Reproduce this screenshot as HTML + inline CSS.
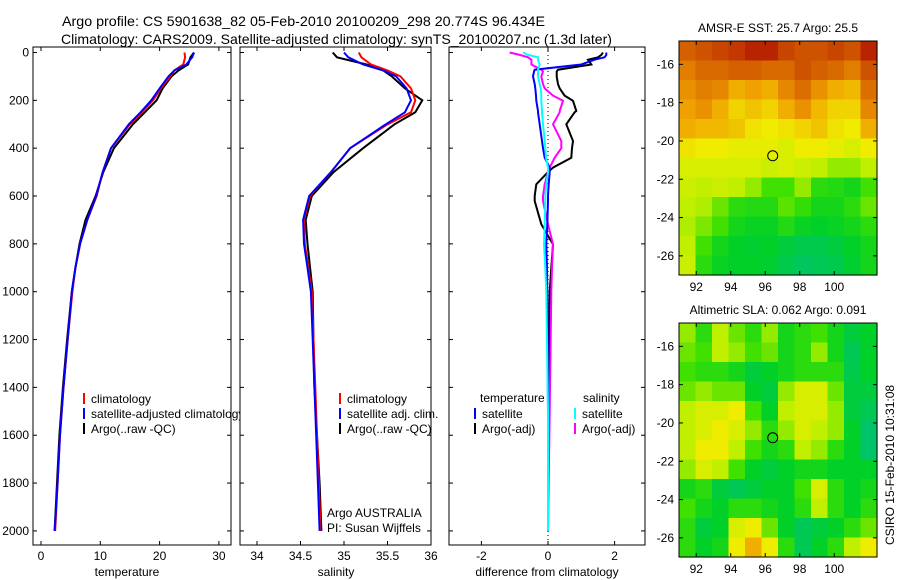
<!DOCTYPE html>
<html><head><meta charset="utf-8"><style>
html,body{margin:0;padding:0;background:#fff}
svg{display:block;font-family:"Liberation Sans",sans-serif;font-size:12px}
.ttl{font-size:14px}
</style></head><body>
<svg id="fig" width="900" height="580" viewBox="0 0 900 580" xmlns="http://www.w3.org/2000/svg">
<rect width="900" height="580" fill="#fff"/>
<text class="ttl" x="62" y="26" textLength="483" lengthAdjust="spacingAndGlyphs">Argo profile: CS 5901638_82 05-Feb-2010 20100209_298 20.774S 96.434E</text>
<text class="ttl" x="61" y="44" textLength="551" lengthAdjust="spacingAndGlyphs">Climatology: CARS2009. Satellite-adjusted climatology: synTS_20100207.nc (1.3d later)</text>
<g id="p1"></g>
<g id="p2"></g>
<g id="p3"></g>
<g id="m1"></g>
<g id="m2"></g>
<text transform="translate(894,465) rotate(-90)" text-anchor="middle">CSIRO 15-Feb-2010 10:31:08</text>
</svg>
<script>
const depths=[0,20,50,75,100,150,200,250,300,400,500,600,700,800,900,1000,1200,1400,1600,1800,2000];
const tempClim=[24.2,24.3,24,22.5,21.8,20.2,18.9,17,15,11.8,10.4,9.4,7.8,6.6,5.8,5.3,4.5,3.8,3.2,2.8,2.4];
const tempSat=[25.8,25.5,24.5,22.5,21.5,20,18.6,16.8,14.8,11.8,10.4,9.3,7.8,6.6,5.8,5.2,4.5,3.8,3.2,2.8,2.3];
const tempArgo=[25.8,25.2,24.8,23.2,22,20.5,19.5,17.5,15.5,12.3,10.5,9.2,7.5,6.5,5.8,5.2,4.4,3.7,3.1,2.7,2.3];
const salClim=[35.17,35.2,35.31,35.5,35.65,35.77,35.82,35.77,35.5,35.07,34.85,34.61,34.54,34.55,34.59,34.63,34.65,34.67,34.69,34.71,34.73];
const salSat=[35.0,35.05,35.22,35.45,35.6,35.72,35.77,35.7,35.48,35.07,34.85,34.6,34.53,34.54,34.58,34.62,34.64,34.66,34.68,34.7,34.72];
const salArgo=[34.87,34.92,35.26,35.45,35.55,35.7,35.9,35.82,35.58,35.22,34.88,34.63,34.56,34.58,34.61,34.64,34.65,34.66,34.69,34.72,34.74];
const diffDepths=[0,10,20,30,50,72,80,100,132,150,180,202,244,250,300,370,400,440,481,500,551,600,621,718,802,900,1000,1500,2000];
const diffTArgo=[1.65,1.6,1.5,1.2,1.3,0.3,0.26,0.26,0.3,0.35,0.5,0.75,0.85,0.8,0.55,0.75,0.72,0.7,0.15,0.0,-0.35,-0.4,-0.4,-0.2,0.15,0.1,0.05,0.0,0.0];
const diffTSat=[1.75,1.75,1.7,1.4,1.0,-0.4,-0.42,-0.45,-0.4,-0.38,-0.36,-0.35,-0.3,-0.3,-0.25,-0.18,-0.15,-0.1,0.05,0.05,0.02,0.0,0.0,-0.02,-0.05,-0.03,-0.02,0.0,0.0];
const diffSSat=[-0.75,-0.6,-0.3,-0.3,-0.25,-0.3,-0.3,-0.3,-0.25,-0.22,-0.2,-0.2,-0.18,-0.18,-0.15,-0.1,-0.08,-0.06,0.0,0.0,-0.05,-0.08,-0.08,-0.1,-0.12,-0.08,-0.05,0.0,0.0];
const diffSArgo=[-1.15,-0.85,-0.6,-0.5,-0.5,-0.2,-0.15,-0.2,-0.15,-0.1,0.15,0.45,0.35,0.35,0.15,0.4,0.4,0.2,0.05,0.0,-0.1,-0.15,-0.15,0.0,0.15,0.12,0.1,0.05,0.0];
const depthTicks=[0,200,400,600,800,1000,1200,1400,1600,1800,2000];
const tempTicks=[0,10,20,30];
const salTicks=[34,34.5,35,35.5,36];
const diffTicks=[-2,0,2];
const lonTicks=[92,94,96,98,100];
const latTicks=[-16,-18,-20,-22,-24,-26];
const sstGrid=[
[0.88,0.9,0.92,0.94,0.97,0.97,0.92,0.9,0.9,0.92,0.9,0.97],
[0.82,0.86,0.86,0.88,0.88,0.86,0.86,0.9,0.88,0.86,0.82,0.9],
[0.78,0.82,0.8,0.72,0.75,0.72,0.8,0.85,0.78,0.72,0.7,0.85],
[0.75,0.78,0.72,0.65,0.68,0.65,0.72,0.78,0.7,0.65,0.65,0.8],
[0.72,0.7,0.7,0.68,0.62,0.6,0.62,0.65,0.68,0.62,0.6,0.72],
[0.62,0.6,0.6,0.58,0.58,0.58,0.55,0.6,0.6,0.58,0.55,0.6],
[0.55,0.55,0.55,0.55,0.55,0.52,0.55,0.52,0.5,0.45,0.45,0.5],
[0.52,0.5,0.52,0.5,0.45,0.35,0.35,0.45,0.3,0.28,0.25,0.35],
[0.5,0.48,0.4,0.3,0.28,0.28,0.38,0.32,0.25,0.25,0.3,0.4],
[0.48,0.42,0.35,0.25,0.22,0.22,0.28,0.22,0.2,0.22,0.25,0.3],
[0.5,0.35,0.25,0.2,0.18,0.2,0.15,0.12,0.12,0.15,0.2,0.25],
[0.52,0.3,0.22,0.2,0.2,0.18,0.12,0.08,0.1,0.12,0.18,0.25]];
const slaGrid=[
[0.45,0.3,0.5,0.4,0.3,0.45,0.25,0.3,0.35,0.25,0.15,0.2],
[0.4,0.35,0.5,0.45,0.35,0.4,0.25,0.3,0.45,0.25,0.1,0.2],
[0.35,0.3,0.3,0.25,0.15,0.2,0.25,0.3,0.3,0.3,0.12,0.2],
[0.4,0.45,0.4,0.4,0.2,0.15,0.45,0.55,0.55,0.4,0.15,0.15],
[0.5,0.55,0.55,0.6,0.35,0.2,0.5,0.55,0.55,0.45,0.15,0.1],
[0.5,0.55,0.6,0.55,0.45,0.3,0.45,0.55,0.5,0.45,0.2,0.05],
[0.5,0.6,0.6,0.5,0.35,0.25,0.3,0.5,0.45,0.3,0.2,0.05],
[0.45,0.55,0.5,0.35,0.2,0.15,0.2,0.25,0.25,0.2,0.2,0.2],
[0.25,0.3,0.15,0.1,0.15,0.2,0.2,0.35,0.55,0.3,0.2,0.25],
[0.35,0.25,0.2,0.3,0.3,0.25,0.2,0.3,0.5,0.3,0.2,0.3],
[0.3,0.15,0.2,0.55,0.6,0.4,0.2,0.1,0.15,0.2,0.3,0.4],
[0.3,0.2,0.25,0.6,0.72,0.6,0.3,0.1,0.2,0.3,0.5,0.6]];
const argoLon=96.434, argoLat=-20.774;

const NS='http://www.w3.org/2000/svg';
function mk(parent,tag,attrs,text){const e=document.createElementNS(NS,tag);for(const k in attrs)e.setAttribute(k,attrs[k]);if(text!==undefined)e.textContent=text;parent.appendChild(e);return e;}
const yD=d=>52.5+d*0.2392;
function frame(g,x0,x1,y0,y1){mk(g,'rect',{x:x0,y:y0,width:x1-x0,height:y1-y0,fill:'#fff',stroke:'#000','stroke-width':1});}
function profile(g,xs,vals,ds,color,w,name){
  const pts=vals.map((v,i)=>xs(v).toFixed(1)+','+yD(ds[i]).toFixed(1)).join(' ');
  const p=mk(g,'polyline',{points:pts,fill:'none',stroke:color,'stroke-width':w});
  
  
}
function xaxis(g,xs,ticks,y0,y1,label,labx){
  ticks.forEach(t=>{const x=xs(t);mk(g,'line',{x1:x,x2:x,y1:y1,y2:y1-4,stroke:'#000'});mk(g,'line',{x1:x,x2:x,y1:y0,y2:y0+4,stroke:'#000'});
    const tl=mk(g,'text',{x:x,y:y1+15,'text-anchor':'middle'},String(t));
    
    });
  const lt=mk(g,'text',{x:labx,y:y1+31,'text-anchor':'middle'},label);
  
  
}
function yticks(g,x0,x1,labels){
  depthTicks.forEach(d=>{const y=yD(d);mk(g,'line',{x1:x0,x2:x0+4,y1:y,y2:y,stroke:'#000'});mk(g,'line',{x1:x1,x2:x1-4,y1:y,y2:y,stroke:'#000'});
    if(labels){const tl=mk(g,'text',{x:x0-4,y:y+4,'text-anchor':'end'},String(d));
      
      }});
}
function legend(g,x,y,color,label){
  mk(g,'line',{x1:x,x2:x,y1:y-10,y2:y+1,stroke:color,'stroke-width':2});
  const t=mk(g,'text',{x:x+7,y:y},label);
  
  
}
// Panel 1
const p1=document.getElementById('p1');
const xT=t=>41+t*5.93;
frame(p1,33,231,47,545);
yticks(p1,33,231,true);
xaxis(p1,xT,tempTicks,47,545,'temperature',127);
profile(p1,xT,tempArgo,depths,'#000',2,'temp-argo-line');
profile(p1,xT,tempClim,depths,'#f00',2,'temp-climatology-line');
profile(p1,xT,tempSat,depths,'#00f',2,'temp-satellite-line');
legend(p1,84,403,'#f00','climatology');
legend(p1,84,418,'#00f','satellite-adjusted climatology');
legend(p1,84,433,'#000','Argo(..raw -QC)');
// Panel 2
const p2=document.getElementById('p2');
const xS=s=>257+(s-34)*87;
frame(p2,240,431,47,545);
yticks(p2,240,431,false);
xaxis(p2,xS,salTicks,47,545,'salinity',336);
profile(p2,xS,salArgo,depths,'#000',2,'sal-argo-line');
profile(p2,xS,salClim,depths,'#f00',2,'sal-climatology-line');
profile(p2,xS,salSat,depths,'#00f',2,'sal-satellite-line');
legend(p2,340,403,'#f00','climatology');
legend(p2,340,418,'#00f','satellite adj. clim.');
legend(p2,340,433,'#000','Argo(..raw -QC)');
mk(p2,'text',{x:327,y:517},'Argo AUSTRALIA');
mk(p2,'text',{x:327,y:532},'PI: Susan Wijffels');
// Panel 3
const p3=document.getElementById('p3');
const xDf=d=>548+d*33.3;
frame(p3,449,645,47,545);
yticks(p3,449,645,false);
xaxis(p3,xDf,diffTicks,47,545,'difference from climatology',547);
mk(p3,'line',{x1:xDf(0),x2:xDf(0),y1:47,y2:545,stroke:'#000','stroke-dasharray':'1,3'});
profile(p3,xDf,diffTArgo,diffDepths,'#000',2,'diff-temp-argo-line');
profile(p3,xDf,diffSArgo,diffDepths,'#f0f',2,'diff-sal-argo-line');
profile(p3,xDf,diffTSat,diffDepths,'#00f',2,'diff-temp-satellite-line');
profile(p3,xDf,diffSSat,diffDepths,'#0ff',2,'diff-sal-satellite-line');
mk(p3,'text',{x:480,y:402},'temperature');
mk(p3,'text',{x:583,y:402},'salinity');
legend(p3,475,418,'#00f','satellite');
legend(p3,475,433,'#000','Argo(-adj)');
legend(p3,575,418,'#0ff','satellite');
legend(p3,575,433,'#f0f','Argo(-adj)');
// Maps
const stops=[[0,[0,192,128]],[0.2,[0,208,40]],[0.35,[64,224,0]],[0.5,[192,240,0]],[0.6,[240,236,0]],[0.75,[240,160,0]],[0.88,[212,96,0]],[1,[176,16,0]]];
function cmap(v){for(let i=1;i<stops.length;i++){if(v<=stops[i][0]){const a=stops[i-1],b=stops[i],f=(v-a[0])/(b[0]-a[0]);return 'rgb('+a[1].map((c,k)=>Math.round(c+(b[1][k]-c)*f)).join(',')+')';}}return 'rgb(176,16,0)';}
function drawMap(id,grid,top,title){
  const g=document.getElementById(id);
  const L=679,R=877,B=top+234;
  const lonMin=91,lonMax=102.48,latTop=-14.78,latBot=-27.0;
  const xL=lon=>L+(lon-lonMin)/(lonMax-lonMin)*(R-L);
  const yL=lat=>top+(latTop-lat)/(latTop-latBot)*(B-top);
  const rows=grid.length,cols=grid[0].length;
  const cw=(R-L)/cols,ch=(B-top)/rows;
  grid.forEach((row,r)=>row.forEach((v,c)=>{
    const cell=mk(g,'rect',{x:(L+c*cw).toFixed(2),y:(top+r*ch).toFixed(2),width:(cw+0.6).toFixed(2),height:(ch+0.6).toFixed(2),fill:cmap(v)});
    
    
  }));
  mk(g,'rect',{x:L,y:top,width:R-L,height:B-top,fill:'none',stroke:'#000'});
  lonTicks.forEach(t=>{const x=xL(t);mk(g,'line',{x1:x,x2:x,y1:B,y2:B-4,stroke:'#000'});mk(g,'line',{x1:x,x2:x,y1:top,y2:top+4,stroke:'#000'});
    const tl=mk(g,'text',{x:x,y:B+16,'text-anchor':'middle'},String(t));
    
    });
  latTicks.forEach(t=>{const y=yL(t);mk(g,'line',{x1:L,x2:L+4,y1:y,y2:y,stroke:'#000'});mk(g,'line',{x1:R,x2:R-4,y1:y,y2:y,stroke:'#000'});
    const tl=mk(g,'text',{x:L-5,y:y+4,'text-anchor':'end'},String(t));
    
    });
  const c=mk(g,'circle',{cx:xL(argoLon),cy:yL(argoLat),r:5,fill:'none',stroke:'#000'});
  
  
  const tt=mk(g,'text',{x:778,y:top-9,'text-anchor':'middle'},title);
  
  
}
drawMap('m1',sstGrid,41,'AMSR-E SST: 25.7 Argo: 25.5');
drawMap('m2',slaGrid,323,'Altimetric SLA: 0.062 Argo: 0.091');
</script>
</body></html>
